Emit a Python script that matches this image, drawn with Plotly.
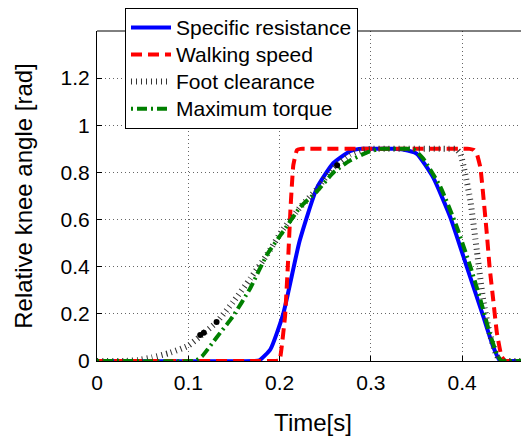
import plotly.graph_objects as go

# Specific resistance
t_sr = [0, 0.172, 0.178, 0.19, 0.204, 0.222, 0.241, 0.259, 0.277, 0.287, 0.30, 0.325, 0.335, 0.35, 0.368, 0.387, 0.405, 0.423, 0.434, 0.441, 0.447, 0.475]
y_sr = [0, 0, 0.003, 0.05, 0.2, 0.51, 0.735, 0.84, 0.89, 0.9, 0.9, 0.9, 0.897, 0.88, 0.78, 0.61, 0.40, 0.19, 0.06, 0.003, 0, 0]

# Walking speed
t_ws = [0, 0.195, 0.2, 0.202, 0.206, 0.209, 0.212, 0.215, 0.219, 0.223, 0.23, 0.40, 0.408, 0.413, 0.416, 0.42, 0.427, 0.43, 0.434, 0.438, 0.443, 0.447, 0.455, 0.475]
y_ws = [0, 0, 0.002, 0.05, 0.19, 0.4, 0.65, 0.83, 0.895, 0.9, 0.9, 0.9, 0.9, 0.895, 0.88, 0.82, 0.54, 0.4, 0.26, 0.12, 0.02, 0, 0, 0]

# Foot clearance
t_fc = [0, 0.03, 0.045, 0.06, 0.08, 0.1, 0.113, 0.131, 0.149, 0.168, 0.186, 0.204, 0.222, 0.241, 0.259, 0.277, 0.29, 0.30, 0.385, 0.393, 0.398, 0.403, 0.409, 0.416, 0.423, 0.43, 0.437, 0.442, 0.45, 0.475]
y_fc = [0, 0, 0.004, 0.015, 0.035, 0.065, 0.105, 0.165, 0.25, 0.35, 0.45, 0.56, 0.65, 0.73, 0.82, 0.875, 0.895, 0.9, 0.9, 0.9, 0.88, 0.8, 0.68, 0.47, 0.26, 0.12, 0.03, 0, 0, 0]

# Maximum torque
t_mt = [0, 0.104, 0.108, 0.115, 0.131, 0.149, 0.168, 0.186, 0.204, 0.222, 0.241, 0.259, 0.277, 0.296, 0.31, 0.32, 0.34, 0.348, 0.357, 0.376, 0.394, 0.409, 0.42, 0.43, 0.438, 0.443, 0.45, 0.475]
y_mt = [0, 0, 0.002, 0.02, 0.10, 0.19, 0.31, 0.45, 0.55, 0.65, 0.72, 0.80, 0.85, 0.885, 0.9, 0.9, 0.9, 0.895, 0.86, 0.74, 0.57, 0.40, 0.26, 0.12, 0.03, 0, 0, 0]

# isolated dots
t_dots = [0.113, 0.117, 0.131, 0.263]
y_dots = [0.11, 0.12, 0.165, 0.83]

series_names = ["Specific resistance", "Walking speed", "Foot clearance", "Maximum torque"]

x_ticks = [0, 0.1, 0.2, 0.3, 0.4]
x_labels = ["0", "0.1", "0.2", "0.3", "0.4"]
y_ticks = [0, 0.2, 0.4, 0.6, 0.8, 1, 1.2]
y_labels = ["0", "0.2", "0.4", "0.6", "0.8", "1", "1.2"]

FONT = "Liberation Sans, Arial, sans-serif"


def lname(s):
    return '<span style="font-size:21px">' + s + '</span>'


fig = go.Figure()
fig.add_trace(go.Scatter(x=t_sr, y=y_sr, mode="lines", name=lname(series_names[0]),
                         line=dict(color="#0000ff", width=4, shape="spline", smoothing=0.5)))
fig.add_trace(go.Scatter(x=t_ws, y=y_ws, mode="lines", name=lname(series_names[1]),
                         line=dict(color="#ff0000", width=4, dash="11px,6px", shape="spline", smoothing=0.3)))
fig.add_trace(go.Scatter(x=t_fc, y=y_fc, mode="lines", name=lname(series_names[2]),
                         line=dict(color="#333333", width=6, dash="1px,4px", shape="spline", smoothing=0.5)))
fig.add_trace(go.Scatter(x=t_mt, y=y_mt, mode="lines", name=lname(series_names[3]),
                         line=dict(color="#008000", width=4, dash="2px,4px,10px,4px", shape="spline", smoothing=0.5)))
fig.add_trace(go.Scatter(x=t_dots, y=y_dots, mode="markers", showlegend=False,
                         marker=dict(color="black", size=6)))

# page body has an 8px margin: figure is offset by (8, 8)
fig.update_layout(
    width=521, height=430,
    margin=dict(l=89, r=0, t=23, b=77, autoexpand=False),
    paper_bgcolor="white", plot_bgcolor="white",
    font=dict(family=FONT, size=21, color="black"),
    showlegend=True,
    legend=dict(x=0.0648, y=1.0697, xanchor="left", yanchor="top",
                bgcolor="white", bordercolor="black", borderwidth=1,
                font=dict(family=FONT, size=18.5, color="black"),
                tracegroupgap=0, itemwidth=40),
    xaxis=dict(range=[0, 0.4732], tickvals=x_ticks, ticktext=x_labels,
               showgrid=True, gridcolor="#666666", griddash="1px,3px", gridwidth=1,
               ticks="inside", ticklen=5, tickcolor="black",
               showline=True, linecolor="black", linewidth=1, mirror=False,
               zeroline=False, automargin=False, ticklabelstandoff=3,
               title=dict(text="Time[s]", font=dict(family=FONT, size=24), standoff=20),
               tickfont=dict(family=FONT, size=21)),
    yaxis=dict(range=[0, 1.4], tickvals=y_ticks, ticktext=y_labels,
               showgrid=True, gridcolor="#666666", griddash="1px,3px", gridwidth=1,
               ticks="inside", ticklen=5, tickcolor="black",
               showline=True, linecolor="black", linewidth=1, mirror=False,
               zeroline=False, automargin=False, ticklabelstandoff=2,
               title=dict(text="Relative knee angle [rad]", font=dict(family=FONT, size=24), standoff=21),
               tickfont=dict(family=FONT, size=21)),
    shapes=[dict(type="line", xref="paper", yref="paper", x0=0, x1=1, y0=1, y1=1,
                 line=dict(color="black", width=1))],
)

fig.write_html("out.html")
